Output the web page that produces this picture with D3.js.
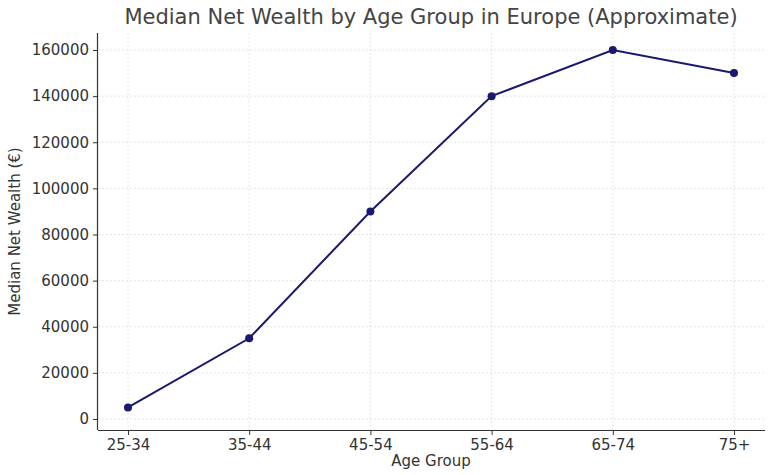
<!DOCTYPE html>
<html><head><meta charset="utf-8">
<script src="https://cdn.jsdelivr.net/npm/d3@7"></script>
<style>body{margin:0;background:#fff}svg{font-family:"DejaVu Sans",sans-serif}</style>
</head><body><svg id="c" width="772" height="475"></svg>
<script>
var ageGroups = ["25-34", "35-44", "45-54", "55-64", "65-74", "75+"];
var wealth = [5000, 35000, 90000, 140000, 160000, 150000];
var yTicks = [0, 20000, 40000, 60000, 80000, 100000, 120000, 140000, 160000];

var margin = { top: 33, right: 7, bottom: 45, left: 98 },
    width = 772 - margin.left - margin.right,
    height = 475 - margin.top - margin.bottom;

var svg = d3.select("#c");
var g = svg.append("g").attr("transform", "translate(" + margin.left + "," + margin.top + ")");

var x = d3.scalePoint().domain(ageGroups).range([30, 636]);
var y = d3.scaleLinear().domain([0, 160000]).range([386, 17]);

// grid
g.selectAll(".gx").data(ageGroups).enter().append("line")
    .attr("x1", d => x(d)).attr("x2", d => x(d)).attr("y1", 0).attr("y2", height)
    .style("stroke", "#ddd").style("stroke-dasharray", "2,2").style("stroke-width", 0.8);
g.selectAll(".gy").data(yTicks).enter().append("line")
    .attr("x1", 0).attr("x2", width).attr("y1", d => y(d)).attr("y2", d => y(d))
    .style("stroke", "#ddd").style("stroke-dasharray", "2,2").style("stroke-width", 0.8);

var xAxis = g.append("g").attr("transform", "translate(0," + height + ")")
    .call(d3.axisBottom(x).tickSizeInner(5).tickSizeOuter(0).tickPadding(4));
var yAxis = g.append("g")
    .call(d3.axisLeft(y).tickValues(yTicks).tickFormat(d3.format("d")).tickSizeInner(5).tickSizeOuter(0).tickPadding(4));
[xAxis, yAxis].forEach(a => {
    a.select(".domain").style("stroke", "#333").style("stroke-width", 1.2);
    a.selectAll("line").style("stroke", "#333");
    a.selectAll("text").style("font-size", "15px").style("fill", "#333").style("font-family", "DejaVu Sans");
});
xAxis.select(".domain").attr("d", "M0,0.5H" + width);
yAxis.select(".domain").attr("d", "M-0.5,0V" + height);

var line = d3.line().x((d, i) => x(ageGroups[i])).y(d => y(d));
g.append("path").datum(wealth).attr("d", line)
    .style("fill", "none").style("stroke", "#191970").style("stroke-width", 2);
g.selectAll(".pt").data(wealth).enter().append("circle")
    .attr("cx", (d, i) => x(ageGroups[i])).attr("cy", d => y(d)).attr("r", 4)
    .style("fill", "#191970");

svg.append("text").attr("x", 431).attr("y", 24).attr("text-anchor", "middle")
    .style("font-size", "21px").style("fill", "#444").text("Median Net Wealth by Age Group in Europe (Approximate)");
svg.append("text").attr("x", 431).attr("y", 466).attr("text-anchor", "middle")
    .style("font-size", "15px").style("fill", "#333").text("Age Group");
svg.append("text").attr("transform", "translate(20," + (margin.top + height / 2) + ") rotate(-90)")
    .attr("text-anchor", "middle").style("font-size", "15px").style("fill", "#333").text("Median Net Wealth (€)");
</script></body></html>
